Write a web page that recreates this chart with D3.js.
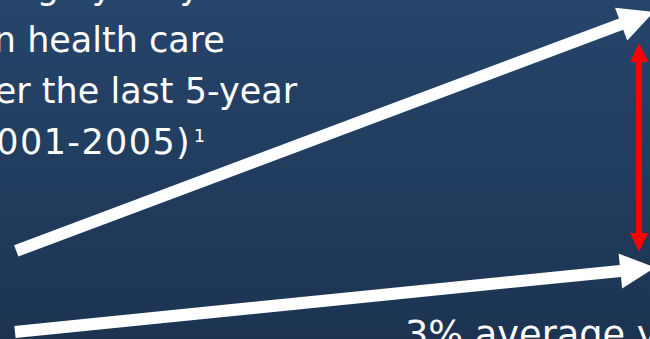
<!DOCTYPE html>
<html>
<head>
<meta charset="utf-8">
<script src="https://cdn.jsdelivr.net/npm/d3@7"></script>
<style>
  body { margin: 0; padding: 0; overflow: hidden; }
  svg { display: block; }
</style>
</head>
<body>
<div id="slide"></div>
<script>
// positions are in percent of the slide box (0-100 on both axes)
var text_lines = ["average yearly", "increase in health care", "costs over the last 5-year", "period (2001-2005)"];
var text_right = [30.8, 34.6, 45.7, 29.4];     // right edge of each line
var text_base = [-0.2, 15.3, 30.3, 45.3];      // baseline of each line
var text_spacing = [0, 0, 0, 1.4];             // extra letter spacing, px
var footnote = "1";
var footnote_pos = [29.8, 41.9];
var bottom_text = "3% average yearly";
var bottom_pos = [62.3, 102.3];
var bottom_visible = ["3% average ", 35.7];    // part before the cut, and its width

// white trend arrows: [x0, y0, x1, y1]
var trend_arrows = [
  [2.5, 74.0, 100.6, 3.5],
  [2.3, 97.9, 100.8, 78.9]
];
// red gap arrow: x, top, bottom
var gap_arrow = [98.3, 12.7, 74.3];

var width = 650;
var height = 339;

var x = d3.scaleLinear().domain([0, 100]).range([0, width]);
var y = d3.scaleLinear().domain([0, 100]).range([0, height]);

var svg = d3.select("#slide").append("svg")
  .attr("width", width)
  .attr("height", height);

var defs = svg.append("defs");
var grad = defs.append("linearGradient")
  .attr("id", "bg")
  .attr("x1", 0).attr("y1", 0)
  .attr("x2", 0).attr("y2", 1);
grad.append("stop").attr("offset", "0%").attr("stop-color", "#26456b");
grad.append("stop").attr("offset", "100%").attr("stop-color", "#1c3452");

svg.append("rect")
  .attr("width", width)
  .attr("height", height)
  .attr("fill", "url(#bg)");

// polygon for an arrow from (ax,ay) to (bx,by) in pixels
function arrow_points(ax, ay, bx, by, shaft, head_w, head_l, both) {
  var dx = bx - ax, dy = by - ay;
  var len = Math.sqrt(dx*dx + dy*dy);
  var ux = dx/len, uy = dy/len;
  var nx = -uy, ny = ux;
  var s = shaft/2;
  function p(t, n) { return [ax + ux*t + nx*n, ay + uy*t + ny*n]; }
  var pts = [];
  if (both) {
    pts.push(p(0, 0), p(head_l, head_w), p(head_l, s));
  } else {
    pts.push(p(0, s));
  }
  pts.push(p(len - head_l, s), p(len - head_l, head_w), p(len, 0),
           p(len - head_l, -head_w), p(len - head_l, -s));
  if (both) {
    pts.push(p(head_l, -s), p(head_l, -head_w));
  } else {
    pts.push(p(0, -s));
  }
  return pts.map(function(q) { return q[0].toFixed(1) + "," + q[1].toFixed(1); }).join(" ");
}

svg.selectAll(".trend")
  .data(trend_arrows)
  .enter().append("polygon")
    .attr("class", "trend")
    .attr("fill", "white")
    .attr("points", function(d) {
      return arrow_points(x(d[0]), y(d[1]), x(d[2]), y(d[3]), 12, 17.5, 35, false);
    });

svg.append("polygon")
  .attr("class", "gap")
  .attr("fill", "#ff0000")
  .attr("points", arrow_points(x(gap_arrow[0]), y(gap_arrow[1]), x(gap_arrow[0]), y(gap_arrow[2]), 6, 9, 19, true));

// TEXT
var font = "'DejaVu Sans', Verdana, sans-serif";

svg.selectAll(".line")
  .data(text_lines)
  .enter().append("text")
    .attr("class", "line")
    .attr("x", function(d, i) { return x(text_right[i]); })
    .attr("y", function(d, i) { return y(text_base[i]); })
    .attr("text-anchor", "end")
    .attr("letter-spacing", function(d, i) { return text_spacing[i]; })
    .attr("fill", "white")
    .attr("font-family", font)
    .attr("font-size", 35)
    .text(function(d) { return d; });

svg.append("text")
  .attr("class", "footnote")
  .attr("x", x(footnote_pos[0]))
  .attr("y", y(footnote_pos[1]))
  .attr("fill", "white")
  .attr("font-family", font)
  .attr("font-size", 18)
  .text(footnote);

var bottom = svg.append("text")
  .attr("x", x(bottom_pos[0]))
  .attr("y", y(bottom_pos[1]))
  .attr("fill", "white")
  .attr("font-family", font)
  .attr("font-size", 34)
  .text(bottom_text);

// size the bottom line so the part before the cut has the same width
var vis_len = bottom.node().getSubStringLength(0, bottom_visible[0].length);
if (vis_len > 0) {
  bottom.attr("font-size", 34 * x(bottom_visible[1]) / vis_len);
}
</script>
</body>
</html>
